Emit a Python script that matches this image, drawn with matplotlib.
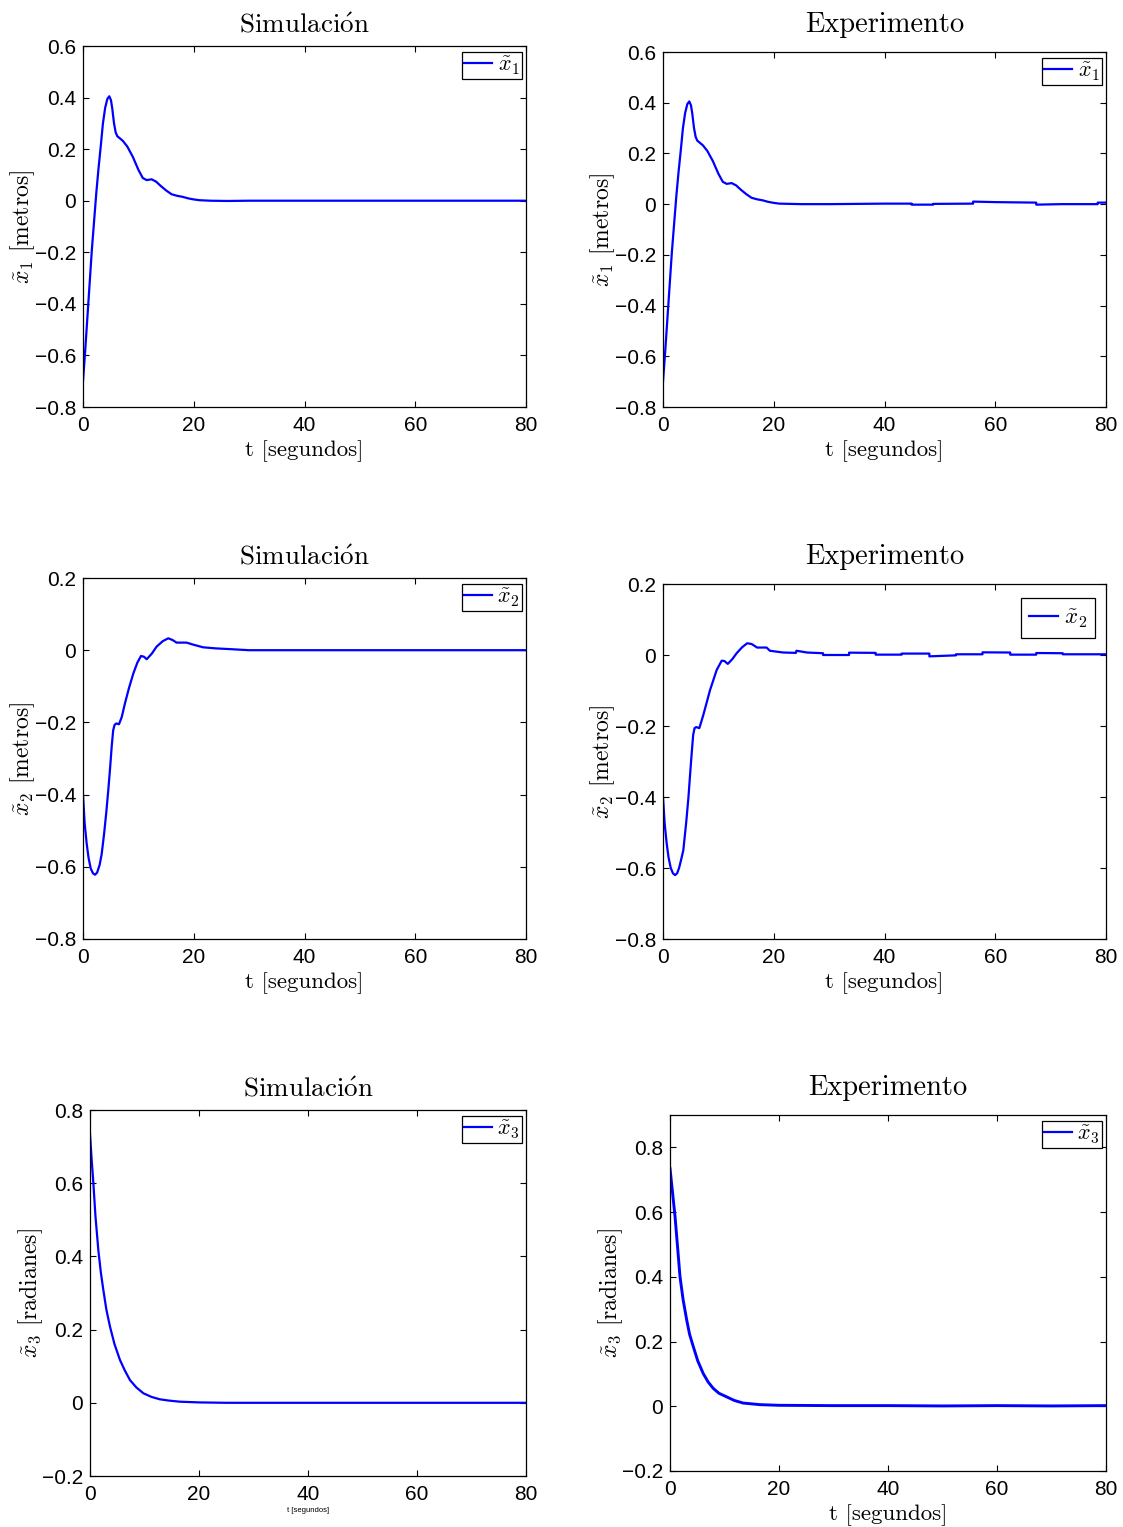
import matplotlib
matplotlib.use("Agg")
import matplotlib.pyplot as plt
import numpy as np

plt.rcParams["mathtext.fontset"] = "cm"
plt.rcParams["font.family"] = ["Liberation Sans", "DejaVu Sans"]

BLUE = "#0000ff"
SERIF = ["cmr10", "DejaVu Serif"]

# x1 error, simulation (metros)
t_x1 = [0, 0.4, 0.8, 1.2, 1.6, 2.0, 2.4, 2.8, 3.2, 3.6, 4.0, 4.4, 4.75, 5.05,
        5.3, 5.6, 5.9, 6.2, 6.6, 7.2, 8.0, 9.0, 10.0, 10.8, 11.5, 12.4, 13.2,
        14.0, 15.0, 16.0, 17.0, 18.0, 19.0, 20.0, 21.0, 23.0, 26.0, 30.0, 80.0]
x1_sim = [-0.70, -0.58, -0.45, -0.32, -0.19, -0.08, 0.03, 0.125, 0.21, 0.30,
          0.36, 0.395, 0.405, 0.39, 0.355, 0.30, 0.265, 0.25, 0.243, 0.232,
          0.21, 0.17, 0.12, 0.088, 0.080, 0.083, 0.074, 0.058, 0.040, 0.025,
          0.019, 0.015, 0.009, 0.005, 0.002, 0.0, -0.001, 0.0, 0.0]

# x1 error, experiment: same transient, then small steps
t_x1_exp = [0, 0.4, 0.8, 1.2, 1.6, 2.0, 2.4, 2.8, 3.2, 3.6, 4.0, 4.4, 4.75,
            5.05, 5.3, 5.6, 5.9, 6.2, 6.6, 7.2, 8.0, 9.0, 10.0, 10.8, 11.5,
            12.4, 13.2, 14.0, 15.0, 16.0, 17.0, 18.0, 19.0, 20.0, 21.0, 25.0,
            30.0, 35.0, 40.0, 44.9, 44.9, 48.8, 48.8, 56.0, 56.0, 60.0, 67.4,
            67.4, 72.0, 78.5, 78.5, 80.0]
x1_exp = [-0.70, -0.58, -0.45, -0.32, -0.19, -0.08, 0.03, 0.125, 0.21, 0.30,
          0.36, 0.395, 0.405, 0.39, 0.355, 0.30, 0.265, 0.25, 0.243, 0.232,
          0.21, 0.17, 0.12, 0.088, 0.080, 0.083, 0.074, 0.058, 0.040, 0.025,
          0.019, 0.015, 0.009, 0.005, 0.002, 0.0, 0.0, 0.001, 0.002, 0.002,
          -0.002, -0.002, 0.001, 0.002, 0.010, 0.008, 0.006, -0.002, 0.0, 0.0,
          0.006, 0.006]

# x2 error, simulation (metros)
t_x2 = [0, 0.3, 0.66, 1.0, 1.4, 1.8, 2.17, 2.55, 3.0, 3.37, 3.8, 4.2, 4.57,
        4.9, 5.18, 5.45, 5.7, 6.0, 6.5, 7.0, 7.58, 8.3, 9.1, 9.8, 10.47, 11.0,
        11.5, 12.4, 13.3, 14.4, 15.4, 16.2, 16.9, 18.7, 20.0, 21.7, 24.0,
        26.5, 30.0, 80.0]
x2_sim = [-0.401, -0.48, -0.535, -0.575, -0.605, -0.618, -0.622, -0.616,
          -0.595, -0.565, -0.51, -0.45, -0.387, -0.325, -0.267, -0.222,
          -0.207, -0.203, -0.205, -0.185, -0.147, -0.105, -0.064, -0.035,
          -0.016, -0.018, -0.025, -0.010, 0.010, 0.025, 0.033, 0.028, 0.021,
          0.021, 0.015, 0.008, 0.005, 0.003, 0.0, 0.0]

# x2 error, experiment
t_x2_exp = [0, 0.3, 0.66, 1.0, 1.4, 1.8, 2.17, 2.55, 2.9, 3.3, 3.67, 4.2, 4.6,
            4.9, 5.18, 5.45, 5.7, 6.0, 6.56, 7.28, 8.49, 9.7, 10.6, 11.1, 11.7,
            12.5, 13.3, 14.3, 15.2, 16.0, 17.0, 18.7, 19.3, 21.7, 24.0, 24.1,
            26.0, 28.9, 28.9, 33.6, 33.6, 38.4, 38.4, 43.1, 43.1, 48.1, 48.1,
            52.9, 52.9, 57.7, 57.7, 62.7, 62.7, 67.4, 67.4, 72.2, 72.2, 80.0]
x2_exp = [-0.40, -0.475, -0.53, -0.57, -0.60, -0.615, -0.62, -0.615, -0.60,
          -0.575, -0.55, -0.47, -0.40, -0.335, -0.277, -0.225, -0.206,
          -0.203, -0.206, -0.169, -0.099, -0.042, -0.016, -0.017, -0.025,
          -0.012, 0.005, 0.022, 0.033, 0.031, 0.021, 0.021, 0.012, 0.007,
          0.006, 0.012, 0.007, 0.005, 0.0, 0.0, 0.0066, 0.006, 0.001, 0.001,
          0.004, 0.004, -0.0038, -0.001, 0.002, 0.002, 0.0075, 0.007, 0.001,
          0.001, 0.0056, 0.005, 0.002, 0.002]

# x3 error (radianes)
t_x3 = [0, 0.3, 0.6, 1.0, 1.53, 2.0, 2.45, 3.0, 3.67, 4.5, 5.5, 6.4, 7.34,
        8.5, 9.8, 11.3, 12.8, 14.5, 16.5, 20.2, 25.0, 80.0]
x3_sim = [0.735, 0.665, 0.604, 0.51, 0.417, 0.355, 0.308, 0.255, 0.208, 0.16,
          0.117, 0.088, 0.062, 0.042, 0.026, 0.016, 0.0096, 0.006, 0.003,
          0.001, 0.0, 0.0]

t_x3_exp = [0, 0.5, 0.92, 1.4, 1.83, 2.4, 3.06, 3.6, 4.28, 5.1, 6.1, 7.0,
            7.95, 9.0, 10.4, 11.8, 13.4, 16.5, 20.0, 30.0, 40.0, 50.0, 60.0,
            70.0, 80.0]
x3_exp = [0.735, 0.655, 0.587, 0.49, 0.401, 0.33, 0.267, 0.222, 0.184, 0.14,
          0.101, 0.075, 0.055, 0.04, 0.029, 0.018, 0.010, 0.005, 0.003, 0.002,
          0.002, 0.001, 0.002, 0.001, 0.002]

W, H = 1123, 1527


def rect(x0, y0, x1, y1):
    return [x0 / W, 1 - y1 / H, (x1 - x0) / W, (y1 - y0) / H]


SIM = r"Simulaci$\acute{\mathrm{o}}$n"
EXP = "Experimento"

panels = [
    # rect, t, y, ylim, yticks, title, ylabel, legend label, legend anchor, lw
    (rect(83, 46, 526, 407), t_x1, x1_sim, (-0.8, 0.6), np.arange(-0.8, 0.61, 0.2),
     SIM, r"$\tilde{x}_1$ [metros]", r"$\tilde{x}_1$", (0.991, 0.983), 1.6),
    (rect(663, 52, 1106, 407), t_x1_exp, x1_exp, (-0.8, 0.6), np.arange(-0.8, 0.61, 0.2),
     EXP, r"$\tilde{x}_1$ [metros]", r"$\tilde{x}_1$", (0.991, 0.983), 1.6),
    (rect(83, 578, 526, 939), t_x2, x2_sim, (-0.8, 0.2), np.arange(-0.8, 0.21, 0.2),
     SIM, r"$\tilde{x}_2$ [metros]", r"$\tilde{x}_2$", (0.991, 0.983), 1.6),
    (rect(663, 584, 1106, 939), t_x2_exp, x2_exp, (-0.8, 0.2), np.arange(-0.8, 0.21, 0.2),
     EXP, r"$\tilde{x}_2$ [metros]", r"$\tilde{x}_2$", (0.975, 0.961), 1.6),
    (rect(90, 1110, 526, 1476), t_x3, x3_sim, (-0.2, 0.8), np.arange(-0.2, 0.81, 0.2),
     SIM, r"$\tilde{x}_3$ [radianes]", r"$\tilde{x}_3$", (0.991, 0.983), 1.6),
    (rect(670, 1115, 1106, 1471), t_x3_exp, x3_exp, (-0.2, 0.9), np.arange(-0.2, 0.81, 0.2),
     EXP, r"$\tilde{x}_3$ [radianes]", r"$\tilde{x}_3$", (0.991, 0.983), 2.1),
]


def fmt(v):
    if abs(v) < 1e-9:
        return "0"
    return f"{v:.1f}".replace("-", "\u2212")


fig = plt.figure(figsize=(W / 100, H / 100), dpi=100)

for i, (r, t, y, ylim, yticks, title, ylab, leg, anchor, lw) in enumerate(panels):
    ax = fig.add_axes(r)
    ax.plot(t, y, color=BLUE, lw=lw, label=leg)
    ax.set_xlim(0, 80)
    ax.set_ylim(*ylim)
    ax.set_xticks([0, 20, 40, 60, 80])
    ax.set_yticks(yticks)
    ax.set_yticklabels([fmt(v) for v in yticks])
    ax.tick_params(direction="in", top=True, right=True, length=4, width=0.8,
                   labelsize=15)
    ax.tick_params(axis="x", pad=6.5)
    ax.tick_params(axis="y", pad=5)
    for s in ax.spines.values():
        s.set_linewidth(0.9)
    pad = 10 if i % 2 == 0 else 14.5
    fs = 19.5 if i % 2 == 0 else 20.5
    ax.set_title(title, fontsize=fs, family=SERIF, pad=pad)
    ax.set_ylabel(ylab, fontsize=17, family=SERIF)
    ax.yaxis.set_label_coords(-0.103, 0.5)
    if i == 4:
        ax.set_xlabel("t [segundos]", fontsize=5.5, labelpad=2)
    else:
        ax.set_xlabel("t [segundos]", fontsize=16.5, family=SERIF, labelpad=3.5)
    lg = ax.legend(loc="upper right", bbox_to_anchor=anchor, borderaxespad=0,
                   fontsize=16 if i != 3 else 16.5, fancybox=False, framealpha=1,
                   edgecolor="black", handlelength=1.25, handletextpad=0.25,
                   borderpad=0.1 if i != 3 else 0.35)
    lg.get_frame().set_linewidth(0.9)
    for h in lg.get_lines():
        h.set_linewidth(1.6)

fig.savefig("out.png", dpi=100)
